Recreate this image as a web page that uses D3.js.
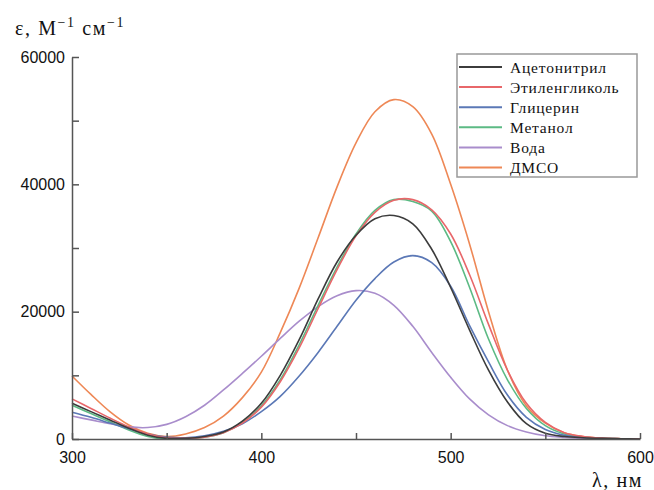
<!DOCTYPE html>
<meta charset="utf-8">
<head>
<style>
  body { margin: 0; background: #fff; }
  .axis path, .axis line { stroke: #555; stroke-width: 1.5px; fill: none; }
  .axis text { font-family: "Liberation Sans", Arial, sans-serif; font-size: 16px; fill: #111; }
  .serif { font-family: "Liberation Serif", "Times New Roman", serif; fill: #111; }
</style>
</head>
<body>
<svg id="chart" width="654" height="490"></svg>
<script src="https://d3js.org/d3.v7.min.js"></script>
<script>
// wavelengths, nm
var wavelengths = [300,310,320,330,340,350,360,370,380,390,400,410,420,430,440,450,
                   460,470,480,490,500,510,520,530,540,550,560,570,580,590,600];

// molar absorptivity, M^-1 cm^-1
var acetonitrile = [5600,4300,3000,1700,600,100,100,400,1100,2800,5600,10000,15600,22000,27800,32000,
                    34600,35100,33800,29800,23800,17100,10800,5800,2400,900,400,200,100,50,0];
var ethyleneGlycol = [6300,4800,3300,1900,800,200,100,300,1000,2500,5000,9000,14300,20500,26600,31900,
                      35600,37500,37600,36000,32200,25800,18000,10800,5600,2600,1000,400,150,50,0];
var glycerol = [4200,3400,2500,1600,800,300,200,500,1200,2400,4300,6700,9900,13600,17700,21800,
                25200,27800,28800,27700,24000,17800,12100,6900,3400,1500,600,250,100,50,0];
var methanol = [5300,4000,2700,1400,400,0,100,300,1000,2600,5200,9300,14800,21000,27000,32200,
                35900,37600,37300,35800,31000,23800,15700,9300,4800,2100,800,300,100,50,0];
var water = [3600,3000,2400,1900,1800,2300,3500,5300,7700,10300,13000,15800,18500,20800,22500,23300,
             22900,21000,17700,13600,9700,6300,3800,2100,1100,500,250,100,50,20,0];
var dmso = [9900,7000,4300,2200,900,400,800,1800,3600,6500,10500,16700,23700,31600,39600,46500,
            51400,53300,52200,47900,40000,30600,20000,10800,5200,2500,1000,400,150,50,0];

var seriesNames = ["Ацетонитрил","Этиленгликоль","Глицерин","Метанол","Вода","ДМСО"];
var seriesValues = [acetonitrile, ethyleneGlycol, glycerol, methanol, water, dmso];
var colors = ["#3c3c3c","#e8676a","#5b78b6","#5cba84","#a98dcc","#ee8856"];

var xTicks = [300,350,400,450,500,550,600];
var yTicks = [0,10000,20000,30000,40000,50000,60000];

var svg = d3.select("#chart");

var x = d3.scaleLinear().domain([300,600]).range([72,640]);
var y = d3.scaleLinear().domain([0,60000]).range([439,57]);

var line = d3.line()
    .x(function(d){ return x(d[0]); })
    .y(function(d){ return y(d[1]); })
    .curve(d3.curveCatmullRom.alpha(0.5));

// curves (draw in reverse so the first legend entry is on top)
for (var i = seriesValues.length - 1; i >= 0; i--) {
  var pts = wavelengths.map(function(w, j){ return [w, seriesValues[i][j]]; });
  svg.append("path")
    .datum(pts)
    .attr("d", line)
    .attr("fill", "none")
    .attr("stroke", colors[i])
    .attr("stroke-width", 1.6);
}

svg.append("g")
    .attr("class", "x axis")
    .attr("transform", "translate(0,439)")
    .call(d3.axisBottom(x).tickValues(xTicks)
      .tickSizeInner(-6).tickSizeOuter(0).tickPadding(13)
      .tickFormat(function(d){ return d % 100 === 0 ? d : ""; }));

svg.append("g")
    .attr("class", "y axis")
    .attr("transform", "translate(72,0)")
    .call(d3.axisLeft(y).tickValues(yTicks)
      .tickSizeInner(-7).tickSizeOuter(0).tickPadding(7)
      .tickFormat(function(d){ return d % 20000 === 0 ? d : ""; }));

// axis titles
var yt = svg.append("text").attr("class","serif").attr("x",15).attr("y",35)
    .style("font-size","20px").style("letter-spacing","1.6px");
yt.append("tspan").text("ε, М");
yt.append("tspan").attr("dy",-8).style("font-size","14px").text("−1");
yt.append("tspan").attr("dy",8).text(" см");
yt.append("tspan").attr("dy",-8).style("font-size","14px").text("−1");

svg.append("text").attr("class","serif").attr("x",592).attr("y",487)
    .style("font-size","20px").style("letter-spacing","1.6px").text("λ, нм");

// legend
var legend = svg.append("g");
legend.append("rect")
    .attr("x",457).attr("y",54).attr("width",180).attr("height",123)
    .attr("fill","#fff").attr("stroke","#999").attr("stroke-width",1.5);
seriesNames.forEach(function(name, i){
  var ly = 67 + i * 20.1;
  legend.append("line")
    .attr("x1",459).attr("x2",502).attr("y1",ly).attr("y2",ly)
    .attr("stroke",colors[i]).attr("stroke-width",2);
  legend.append("text").attr("class","serif")
    .attr("x",510).attr("y",ly).attr("dy","0.36em")
    .style("font-size","15.5px").style("letter-spacing","0.8px").text(name);
});
</script>
</body>
</html>
